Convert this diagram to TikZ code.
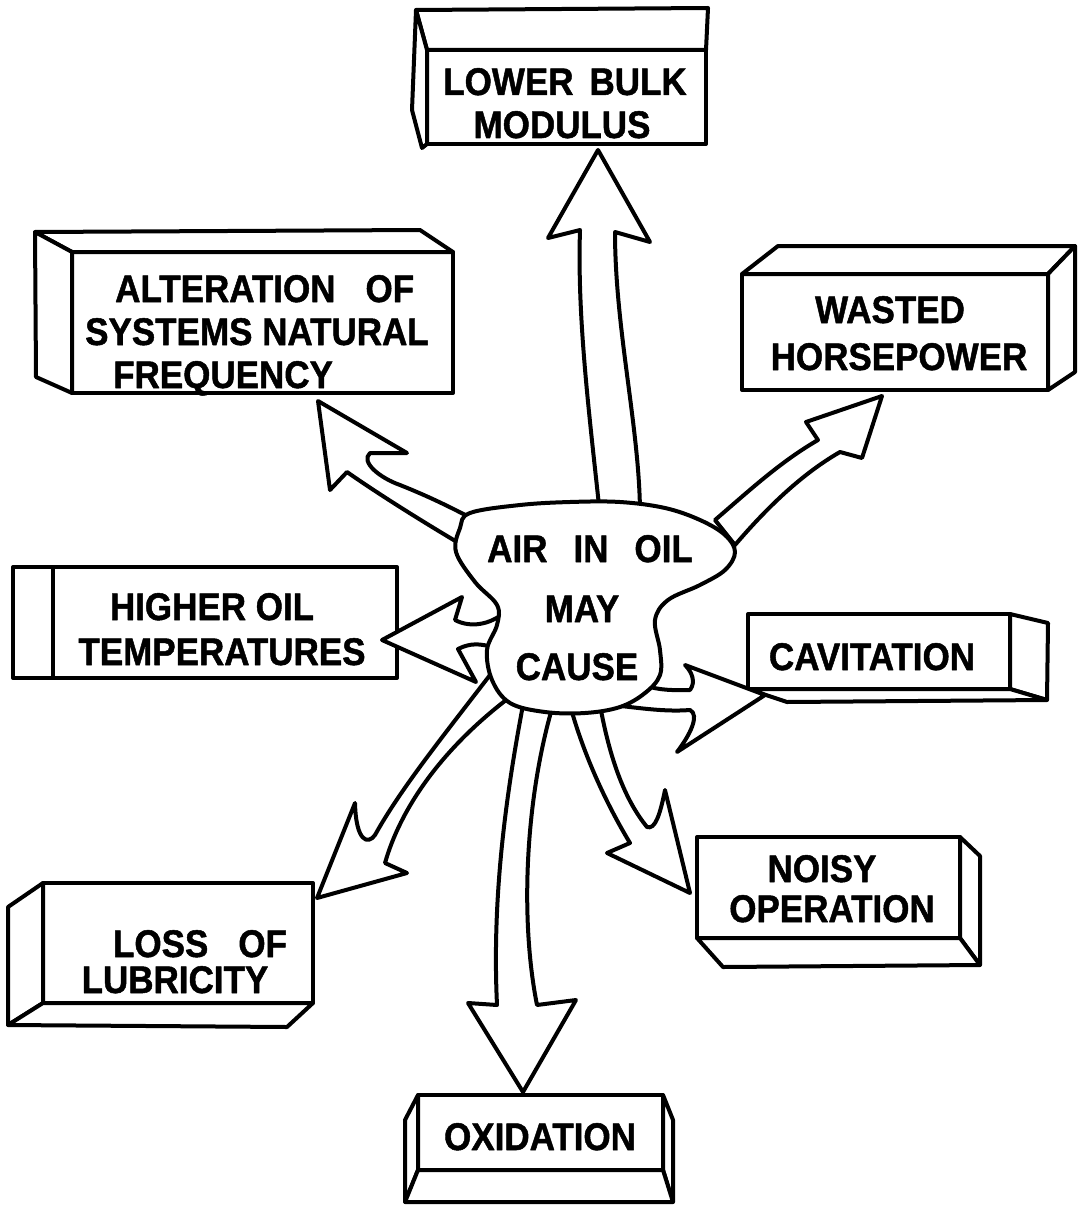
\documentclass[tikz,border=0pt]{standalone}
\usepackage{fontspec}
\newfontfamily\lblfont{Liberation Sans}[FakeBold=1.3]
\newcommand{\tall}[1]{\scalebox{1}[1.1]{#1}}
\begin{document}
\begin{tikzpicture}[x=1pt,y=-1pt,line join=round,line cap=round]
\tikzset{
  ln/.style={line width=4pt},
  face/.style={draw,ln,fill=white},
  frontbox/.style={draw,ln,fill=white,rectangle,inner sep=0pt,outer sep=0pt},
  lbl/.style={font=\lblfont\bfseries\fontsize{35}{42}\selectfont,inner sep=0pt,anchor=base},
  lblw/.style={lbl,anchor=base west},
  fatarrow/.style={draw,line width=4pt,fill=white,line join=round}
}
\fill[white] (0,0) rectangle (1077,1209);
\useasboundingbox (0,0) rectangle (1077,1209);

% ---------- boxes ----------
% lower bulk modulus
\node[frontbox,minimum width=279pt,minimum height=94pt] (bulk) at (566.5,97) {};
\draw[face] (bulk.north west) -- (416,10) -- (708,8) -- (bulk.north east) -- cycle;
\draw[face] (bulk.north west) -- (416,10) -- (412,110) -- (422,148) -- (bulk.south west) -- cycle;
% alteration
\node[frontbox,minimum width=381pt,minimum height=141pt] (alt) at (262.5,322.5) {};
\draw[face] (alt.north west) -- (35,232) -- (420,230) -- (alt.north east) -- cycle;
\draw[face] (alt.north west) -- (35,232) -- (36,377) -- (alt.south west) -- cycle;
% wasted
\node[frontbox,minimum width=306pt,minimum height=116pt] (wasted) at (895,332) {};
\draw[face] (wasted.north west) -- (778,246) -- (1075,246) -- (wasted.north east) -- cycle;
\draw[face] (wasted.north east) -- (1075,246) -- (1075,372) -- (wasted.south east) -- cycle;
% higher oil temperatures
\node[frontbox,minimum width=344pt,minimum height=111pt] (higher) at (225,622.5) {};
\draw[face] (higher.north west) -- (13,567) -- (13,678) -- (higher.south west) -- cycle;
% cavitation
\node[frontbox,minimum width=262pt,minimum height=75pt] (cav) at (879,651.5) {};
\draw[face] (cav.north east) -- (1048,623) -- (1047,700) -- (cav.south east) -- cycle;
\draw[face] (cav.south west) -- (cav.south east) -- (1047,700) -- (787,702) -- cycle;
% loss of lubricity
\node[frontbox,minimum width=270pt,minimum height=120pt] (lub) at (178,943) {};
\draw[face] (lub.north west) -- (8,907) -- (8,1025) -- (lub.south west) -- cycle;
\draw[face] (lub.south west) -- (lub.south east) -- (287,1027) -- (8,1025) -- cycle;
% noisy operation
\node[frontbox,minimum width=263pt,minimum height=101pt] (noisy) at (828.5,887.5) {};
\draw[face] (noisy.north east) -- (980,856) -- (980,965) -- (noisy.south east) -- cycle;
\draw[face] (noisy.south west) -- (noisy.south east) -- (980,965) -- (723,967) -- cycle;
% oxidation
\node[frontbox,minimum width=245pt,minimum height=75pt] (oxid) at (540.5,1132.5) {};
\draw[face] (oxid.north west) -- (405,1120) -- (405,1202) -- (oxid.south west) -- cycle;
\draw[face] (oxid.north east) -- (673,1120) -- (673,1202) -- (oxid.south east) -- cycle;
\draw[face] (oxid.south west) -- (oxid.south east) -- (673,1202) -- (405,1202) -- cycle;

% ---------- fat arrows ----------
% up to lower bulk modulus
\draw[fatarrow] (600,515) .. controls (590,420) and (577,320) .. (580,230)
  -- (548,238) -- (598,150) -- (650,242) -- (615,232)
  .. controls (615,330) and (640,430) .. (640,515) -- cycle;
% to alteration
\draw[fatarrow] (318,401) -- (407,453) -- (370,453)
  .. controls (360,462) and (380,478) .. (400,485)
  .. controls (430,497) and (450,507) .. (475,520)
  -- (462,545) .. controls (420,520) and (380,495) .. (347,472)
  -- (330,490) -- cycle;
% to wasted horsepower
\draw[fatarrow] (715,520) .. controls (750,490) and (780,462) .. (818,440)
  -- (806,422) -- (882,396) -- (862,458) -- (840,452)
  .. controls (800,475) and (765,510) .. (735,545) -- cycle;
% to higher oil temperatures
\draw[fatarrow] (505,612) .. controls (490,625) and (470,628) .. (455,620)
  -- (462,597) -- (382,640) -- (476,682) -- (458,649)
  .. controls (470,643) and (480,643) .. (495,648) -- cycle;
% to cavitation
\draw[fatarrow] (650,687) .. controls (665,691) and (680,690) .. (690,690)
  .. controls (696,682) and (692,672) .. (685,665)
  -- (765,695) -- (677,752)
  .. controls (690,735) and (700,715) .. (690,710)
  .. controls (665,712) and (640,708) .. (612,705) -- cycle;
% to noisy operation
\draw[fatarrow] (570,705) .. controls (585,760) and (610,810) .. (630,843)
  -- (607,853) -- (690,893) -- (665,790)
  .. controls (660,815) and (655,830) .. (647,827)
  .. controls (625,800) and (610,760) .. (600,705) -- cycle;
% to oxidation
\draw[fatarrow] (523,705) .. controls (505,800) and (492,900) .. (497,1005)
  -- (468,1003) -- (523,1092) -- (576,1000) -- (537,1005)
  .. controls (520,920) and (525,800) .. (553,705) -- cycle;
% to loss of lubricity
\draw[fatarrow] (490,675) .. controls (440,740) and (400,790) .. (375,835)
  .. controls (368,845) and (356,842) .. (355,803)
  -- (317,898) -- (407,873) -- (385,863)
  .. controls (400,810) and (440,750) .. (510,697) -- cycle;

% ---------- central blob ----------
\draw[ln,fill=white] plot[smooth cycle,tension=0.6] coordinates {
 (470,513) (520,505) (570,502) (620,502) (665,508) (700,520) (725,535)
 (735,552) (725,570) (700,585) (668,600) (655,620) (660,650) (660,675)
 (645,693) (620,707) (585,713) (545,712) (510,703) (492,680) (487,650)
 (497,625) (497,605) (475,582) (456,552) (460,528)};
\coordinate (blob) at (590,608);

% ---------- labels ----------
\node[lbl] (t-air) at (590,562) {\tall{AIR\hspace*{26pt}IN\hspace*{26pt}OIL}};
\node[lbl] (t-may) at (582,622) {\tall{MAY}};
\node[lbl] (t-cause) at (577,680) {\tall{CAUSE}};

\node[lbl] (t-bulk1) at (565,95) {\tall{LOWER\hspace*{16pt}BULK}};
\node[lbl] (t-bulk2) at (562,138) {\tall{MODULUS}};

\node[lblw] (t-alt1) at (115,302) {\tall{ALTERATION\hspace*{30pt}OF}};
\node[lblw] (t-alt2) at (85,345) {\tall{SYSTEMS NATURAL}};
\node[lblw] (t-alt3) at (113,388) {\tall{FREQUENCY}};

\node[lbl] (t-was1) at (890,323) {\tall{WASTED}};
\node[lbl] (t-was2) at (899,370) {\tall{HORSEPOWER}};

\node[lbl] (t-hig1) at (212,620) {\tall{HIGHER OIL}};
\node[lbl] (t-hig2) at (222,665) {\tall{TEMPERATURES}};

\node[lbl] (t-cav) at (872,670) {\tall{CAVITATION}};

\node[lbl] (t-lub1) at (200,957) {\tall{LOSS\hspace*{30pt}OF}};
\node[lbl] (t-lub2) at (175,993) {\tall{LUBRICITY}};

\node[lbl] (t-noi1) at (822,882) {\tall{NOISY}};
\node[lbl] (t-noi2) at (832,922) {\tall{OPERATION}};

\node[lbl] (t-oxi) at (540,1150) {\tall{OXIDATION}};
\end{tikzpicture}
\end{document}
